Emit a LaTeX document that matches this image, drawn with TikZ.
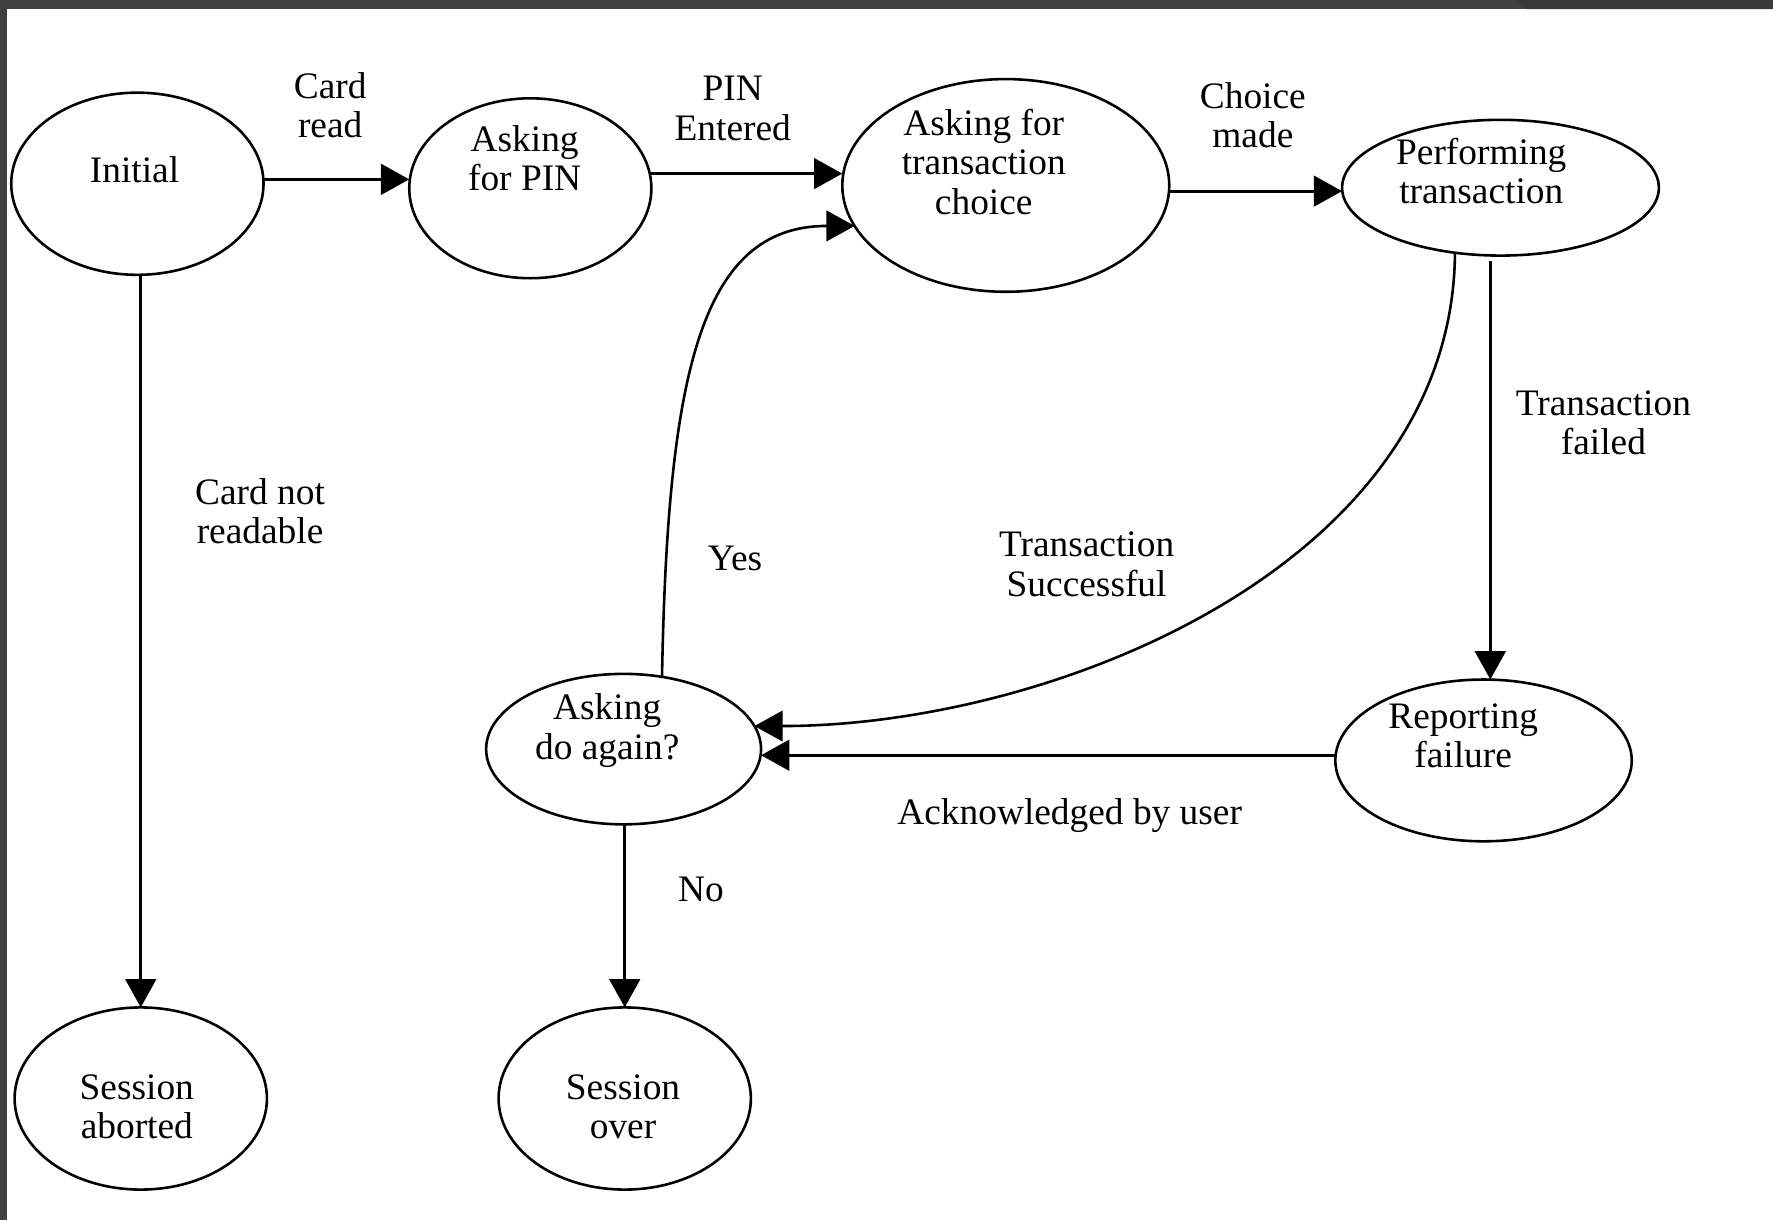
\documentclass[tikz,border=0pt]{standalone}
\usepackage{fontspec}
\setmainfont{Liberation Serif}
\usetikzlibrary{shapes.geometric,arrows.meta,calc}
\definecolor{framegray}{RGB}{64,64,64}
\definecolor{framedark}{RGB}{57,57,57}
\newcommand\diagfont{\fontsize{9.4pt}{9.9pt}\selectfont}
\begin{document}
\begin{tikzpicture}[x=0.01cm,y=-0.01cm,
  state/.style={draw, ellipse, line width=0.65pt, inner sep=0pt, outer sep=0pt},
  txt/.style={align=center, inner sep=0pt, font=\diagfont},
  conn/.style={line width=0.8pt, -{Triangle[length=0.25cm,width=0.27cm]}},
  curved/.style={line width=0.65pt, -{Triangle[length=0.25cm,width=0.27cm]}}]
\useasboundingbox (0,0) rectangle (1568,1079);
\fill[white] (0,0) rectangle (1568,1079);
% window frame
\fill[framegray] (0,0) rectangle (1568,8);
\fill[framedark] (1340,0) -- (1568,0) -- (1568,8) -- (1350,8) -- cycle;
\fill[framegray] (0,0) rectangle (6,1079);

% states
\node[state, minimum width=2.23cm, minimum height=1.61cm] (init)   at (121.5,162.5) {};
\node[state, minimum width=2.14cm, minimum height=1.59cm] (pin)    at (469,166.5) {};
\node[state, minimum width=2.89cm, minimum height=1.88cm] (choice) at (889.5,164) {};
\node[state, minimum width=2.80cm, minimum height=1.20cm] (perf)   at (1327,166) {};
\node[state, minimum width=2.43cm, minimum height=1.33cm] (again)  at (551.5,662.5) {};
\node[state, minimum width=2.62cm, minimum height=1.43cm] (report) at (1312,672.5) {};
\node[state, minimum width=2.23cm, minimum height=1.61cm] (abort)  at (124.5,971.5) {};
\node[state, minimum width=2.23cm, minimum height=1.61cm] (over)   at (552.5,971.5) {};

% state names
\node[txt] (initT)   at (119,150)   {Initial};
\node[txt] (pinT)    at (464,140)   {Asking\\for PIN};
\node[txt] (choiceT) at (870,143)   {Asking for\\transaction\\choice};
\node[txt] (perfT)   at (1310,151)  {Performing\\transaction};
\node[txt] (againT)  at (537,646)   {Asking\\do again?};
\node[txt] (reportT) at (1294,651)  {Reporting\\failure};
\node[txt] (abortT)  at (121,979)   {Session\\aborted};
\node[txt] (overT)   at (551,979)   {Session\\over};

% transitions
\draw[conn] (init.2) -- (init.2 -| pin.west);
\draw[conn] (pin.7) -- (pin.7 -| choice.west);
\draw[conn] (choice.-2) -- (choice.-2 -| perf.west);
\draw[conn] (abort.north |- init.south) -- (abort.north);
\draw[conn] (over.north |- again.south) -- (over.north);
\draw[conn] ($(perf.south -| report.north)+(6,5)$) -- ($(report.north)+(6,0)$);
\draw[conn] (report.178) -- (report.178 -| again.east);
\draw[curved] (perf.-125) .. controls +(-2,277) and +(263,0) .. (again.10);
\draw[curved] (again.62) .. controls +(5,-269) and +(-136,0) .. (choice.195);

% transition labels
\node[txt] (lCard)   at (292,93)   {Card\\read};
\node[txt] (lPin)    at (648,96)   {PIN\\Entered};
\node[txt] (lChoice) at (1108,102) {Choice\\made};
\node[txt] (lNotRd)  at (230,452)  {Card not\\readable};
\node[txt] (lFail)   at (1418,374) {Transaction\\failed};
\node[txt] (lOk)     at (961,499)  {Transaction\\Successful};
\node[txt] (lYes)    at (650,494)  {Yes};
\node[txt] (lAck)    at (946,721)  {Acknowledged by user};
\node[txt] (lNo)     at (620,787)  {No};
\end{tikzpicture}
\end{document}
